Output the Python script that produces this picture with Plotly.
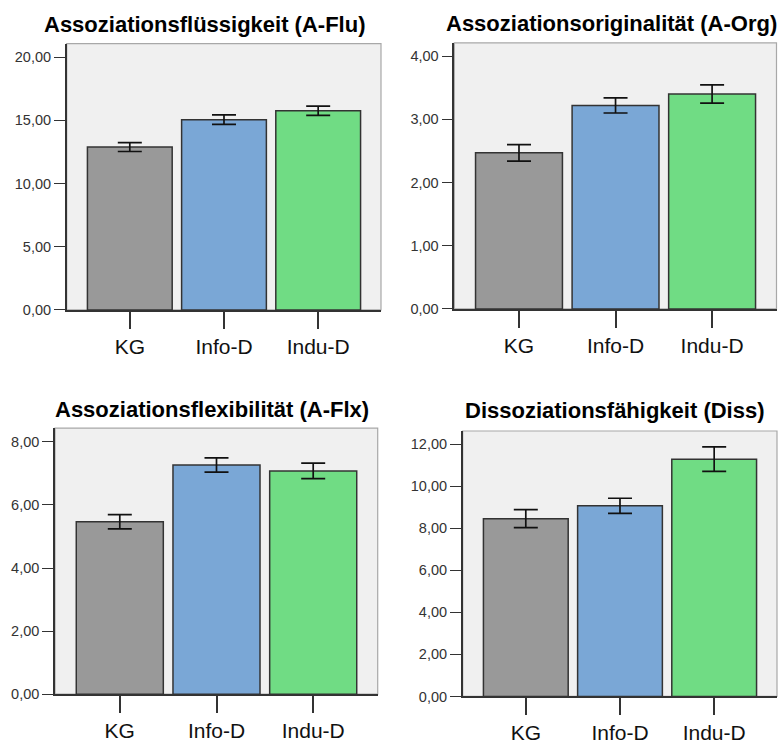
import plotly.graph_objects as go

W, H = 781, 745

groups = ["KG", "Info-D", "Indu-D"]
bar_colors = ["#999999", "#7aa7d6", "#70dc84"]

titles = [
    "Assoziationsflüssigkeit (A-Flu)",
    "Assoziationsoriginalität (A-Org)",
    "Assoziationsflexibilität (A-Flx)",
    "Dissoziationsfähigkeit (Diss)",
]

flu_mean = [12.88, 15.05, 15.75]
flu_err = [0.35, 0.37, 0.37]
org_mean = [2.47, 3.22, 3.40]
org_err = [0.13, 0.12, 0.145]
flx_mean = [5.47, 7.27, 7.08]
flx_err = [0.225, 0.225, 0.245]
diss_mean = [8.46, 9.07, 11.29]
diss_err = [0.43, 0.36, 0.585]

flu_ticks = [0, 5, 10, 15, 20]
flu_ticktext = ["0,00", "5,00", "10,00", "15,00", "20,00"]
org_ticks = [0, 1, 2, 3, 4]
org_ticktext = ["0,00", "1,00", "2,00", "3,00", "4,00"]
flx_ticks = [0, 2, 4, 6, 8]
flx_ticktext = ["0,00", "2,00", "4,00", "6,00", "8,00"]
diss_ticks = [0, 2, 4, 6, 8, 10, 12]
diss_ticktext = ["0,00", "2,00", "4,00", "6,00", "8,00", "10,00", "12,00"]

panels = [
    dict(mean=flu_mean, err=flu_err, tv=flu_ticks, tt=flu_ticktext, ymax=21.07,
         px=(66.7, 381.0), py=(44.0, 313.3), title=titles[0], tpos=(204.5, 25.0)),
    dict(mean=org_mean, err=org_err, tv=org_ticks, tt=org_ticktext, ymax=4.21,
         px=(454.3, 776.5), py=(43.3, 312.3), title=titles[1], tpos=(611.7, 23.5)),
    dict(mean=flx_mean, err=flx_err, tv=flx_ticks, tt=flx_ticktext, ymax=8.44,
         px=(55.0, 377.7), py=(432.7, 701.7), title=titles[2], tpos=(211.7, 413.5)),
    dict(mean=diss_mean, err=diss_err, tv=diss_ticks, tt=diss_ticktext, ymax=12.63,
         px=(462.7, 777.0), py=(435.7, 704.0), title=titles[3], tpos=(615.0, 415.0)),
]

fig = go.Figure()
layout = dict(
    width=W, height=H, margin=dict(l=0, r=0, t=0, b=0),
    paper_bgcolor="white", plot_bgcolor="#f0f0f0", showlegend=False,
    font=dict(family="Liberation Sans, Arial, sans-serif", color="#222"),
    annotations=[], shapes=[],
)

for i, p in enumerate(panels, start=1):
    xa = "x" if i == 1 else f"x{i}"
    ya = "y" if i == 1 else f"y{i}"
    fig.add_trace(go.Bar(
        x=groups, y=p["mean"], xaxis=xa, yaxis=ya, width=0.9,
        marker=dict(color=bar_colors, line=dict(color="#333333", width=1.5)),
        error_y=dict(type="data", array=p["err"], symmetric=True,
                     color="#111111", thickness=1.7, width=12),
        hoverinfo="skip",
    ))
    xd = [p["px"][0] / W, p["px"][1] / W]
    yd = [(H - p["py"][1]) / H, (H - p["py"][0]) / H]
    layout[f"xaxis{'' if i == 1 else i}"] = dict(
        domain=xd, anchor=ya, type="category", range=[-0.67, 2.667],
        showline=True, linecolor="#333333", linewidth=1.5,
        ticks="outside", ticklen=17, tickwidth=1.5, tickcolor="#333333",
        tickfont=dict(size=21, color="#111111"), showgrid=False, fixedrange=True,
    )
    layout[f"yaxis{'' if i == 1 else i}"] = dict(
        domain=yd, anchor=xa, range=[0, p["ymax"]],
        tickvals=p["tv"], ticktext=p["tt"],
        showline=True, linecolor="#333333", linewidth=1.5,
        ticks="outside", ticklen=11, tickwidth=1.2, tickcolor="#333333",
        tickfont=dict(size=14.5, color="#333333"), showgrid=False, zeroline=False,
        fixedrange=True,
    )
    layout["shapes"].append(dict(
        type="rect", xref=f"{xa} domain", yref=f"{ya} domain",
        x0=0, x1=1, y0=0, y1=1, line=dict(color="#a8a8a8", width=1.2),
        layer="below",
    ))
    layout["annotations"].append(dict(
        text=f"<b>{p['title']}</b>", xref="paper", yref="paper",
        x=p["tpos"][0] / W, y=(H - p["tpos"][1]) / H,
        xanchor="center", yanchor="middle", showarrow=False,
        font=dict(size=22, color="#000000"),
    ))

fig.update_layout(**layout)
fig.write_html(
    "out.html",
    config={"displayModeBar": False},
    post_script="document.body.style.margin='0';document.body.style.overflow='hidden';",
)
